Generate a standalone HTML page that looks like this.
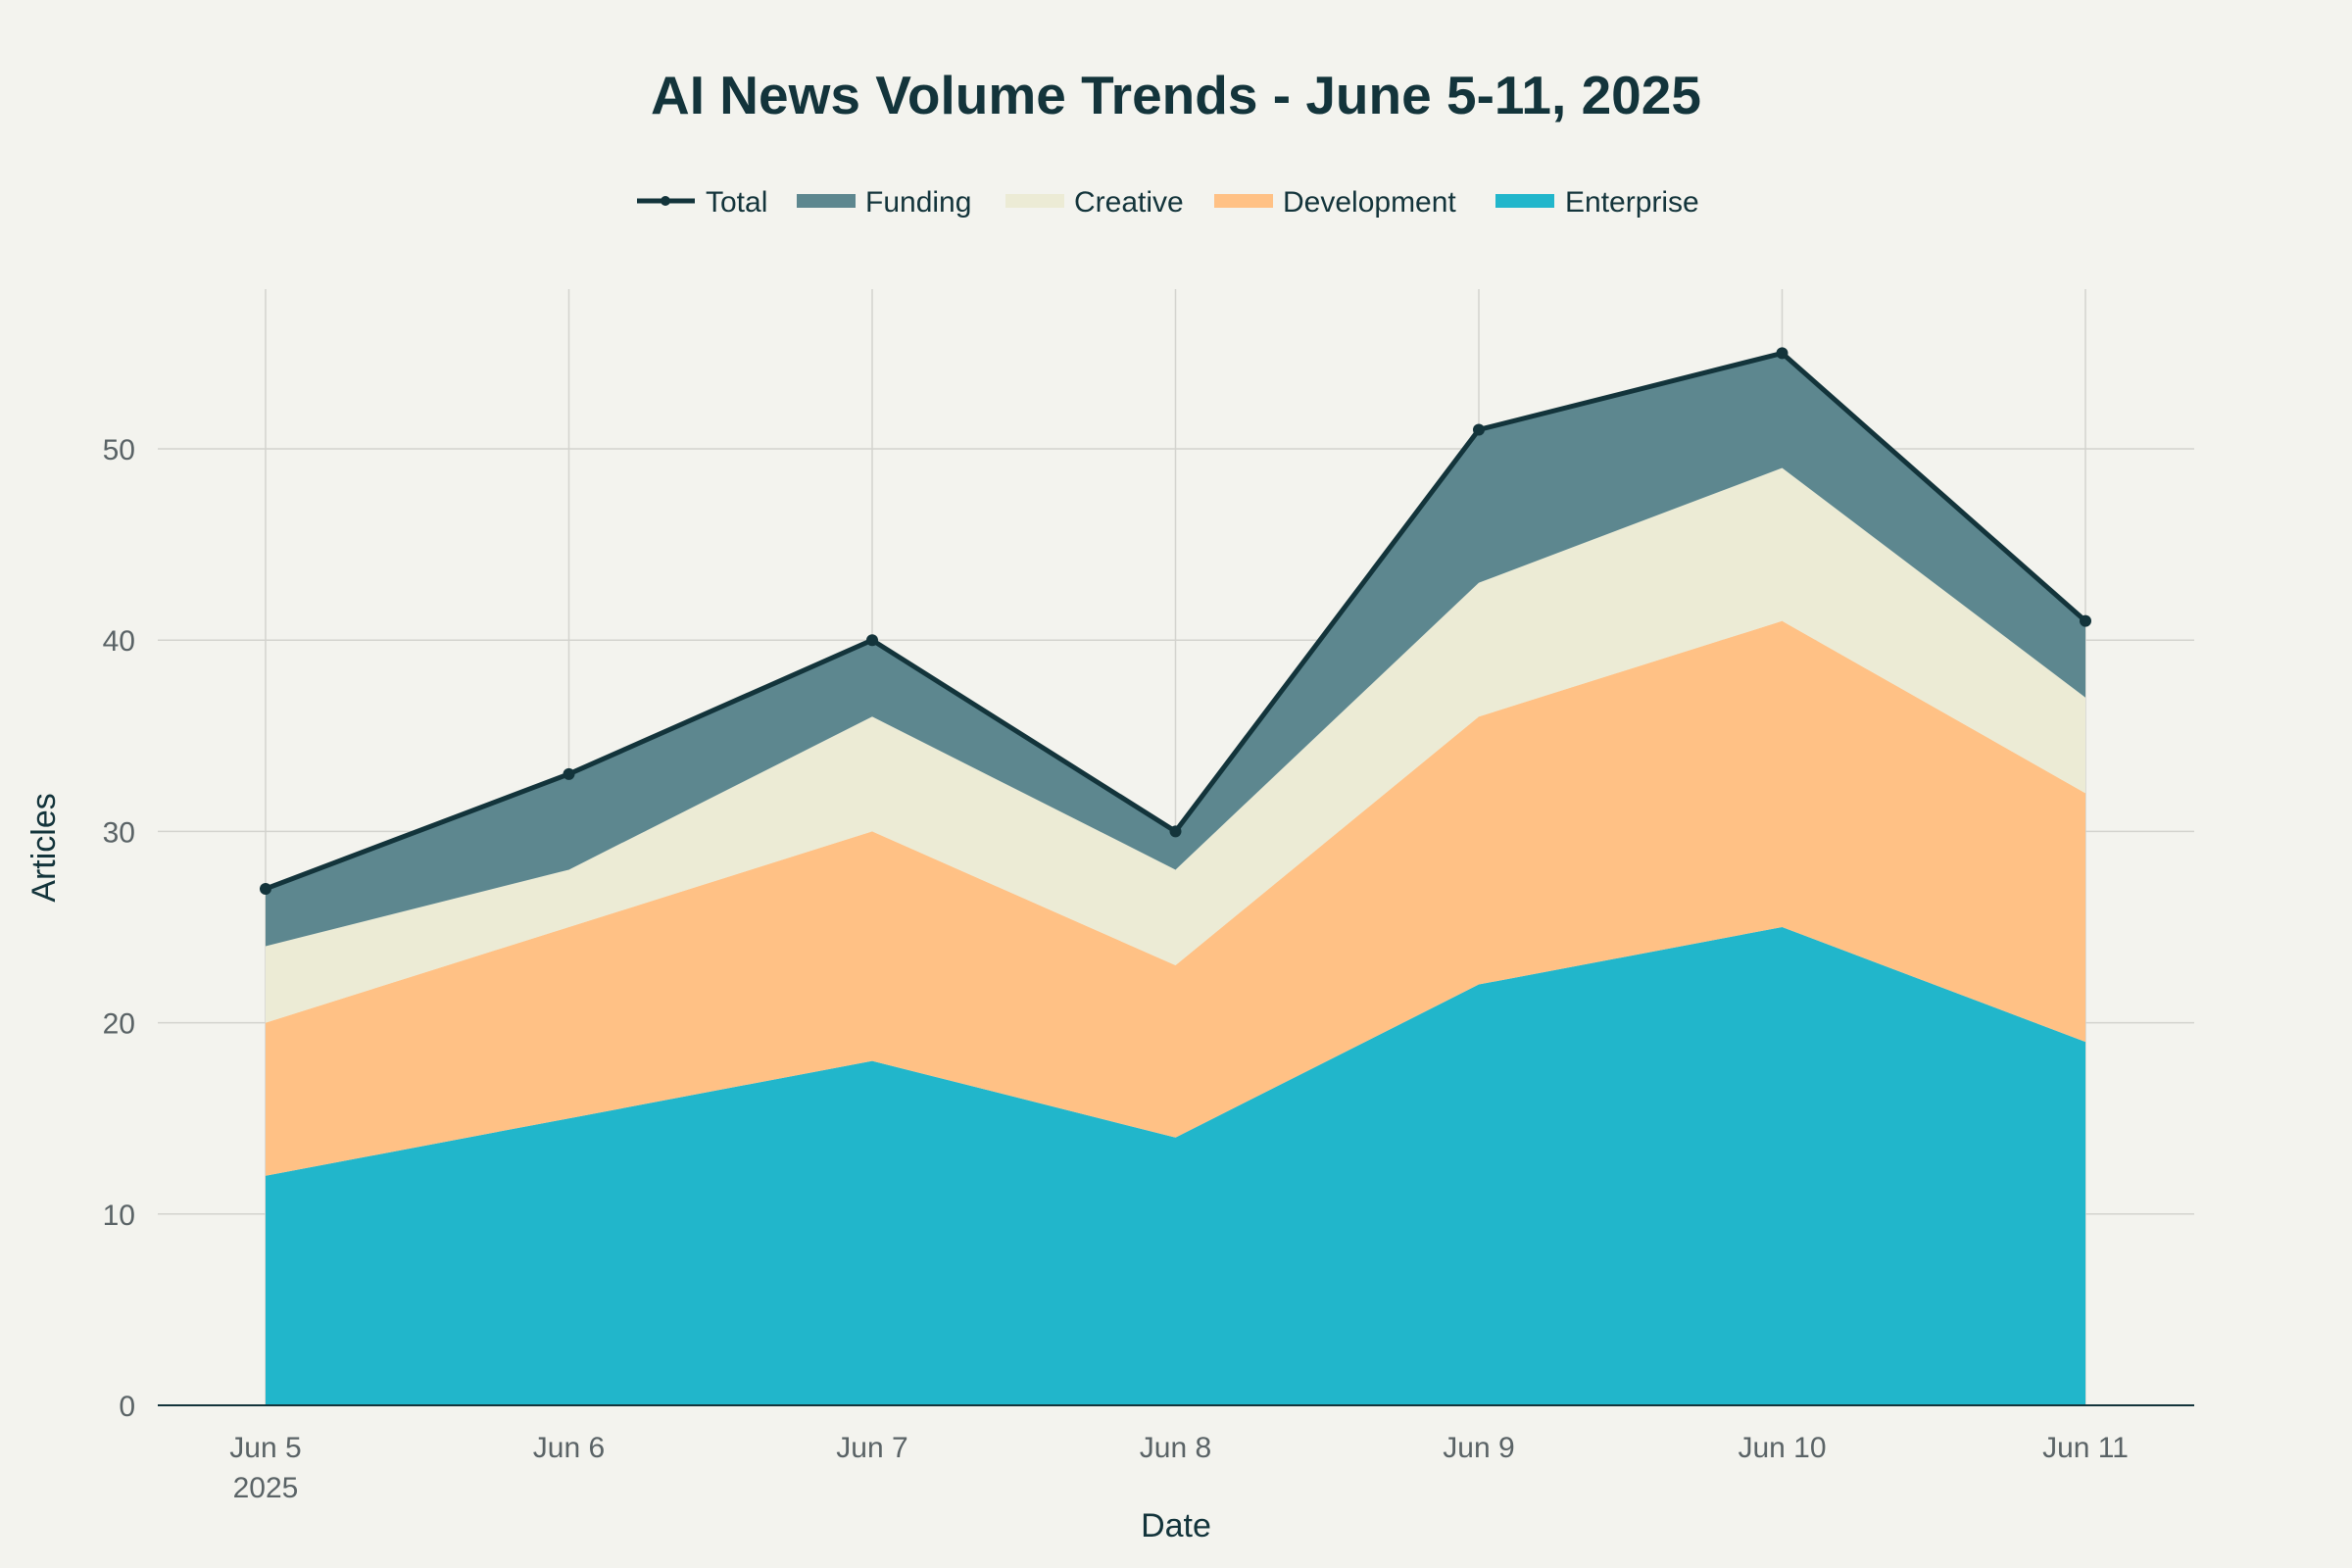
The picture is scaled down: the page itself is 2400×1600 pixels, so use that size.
<!DOCTYPE html>
<html><head><meta charset="utf-8"><style>
html,body{margin:0;padding:0;background:#F3F3EE;}
svg{display:block;font-family:"Liberation Sans",sans-serif;}
</style></head><body>
<svg id="chart" width="2400" height="1600" viewBox="0 0 2400 1600" xmlns="http://www.w3.org/2000/svg">
<rect width="2400" height="1600" fill="#F3F3EE"/>
<text x="1200" y="116" text-anchor="middle" font-size="55" font-weight="bold" fill="#13343B">AI News Volume Trends - June 5-11, 2025</text>
<g font-size="30" fill="#13343B">
 <g><line x1="650" y1="205" x2="709" y2="205" stroke="#13343B" stroke-width="5"/><circle cx="679" cy="205" r="5" fill="#13343B"/><text x="720" y="216">Total</text></g>
 <g><rect x="813" y="198" width="60" height="14" fill="#5D878F"/><text x="883" y="216">Funding</text></g>
 <g><rect x="1026" y="198" width="60" height="14" fill="#ECEBD5"/><text x="1096" y="216">Creative</text></g>
 <g><rect x="1239" y="198" width="60" height="14" fill="#FFC185"/><text x="1309" y="216">Development</text></g>
 <g><rect x="1526" y="198" width="60" height="14" fill="#21B6CB"/><text x="1597" y="216">Enterprise</text></g>
</g>
<g id="grid"></g>
<g id="areas"></g>
<g id="axes"></g>
<text x="1200" y="1568" text-anchor="middle" font-size="34" fill="#13343B">Date</text>
<text transform="translate(56,865) rotate(-90)" text-anchor="middle" font-size="34" fill="#13343B">Articles</text>
</svg>
<script>
const categories = ["Jun 5","Jun 6","Jun 7","Jun 8","Jun 9","Jun 10","Jun 11"];
const enterprise = [12,15,18,14,22,25,19];
const development = [8,10,12,9,14,16,13];
const creative = [4,3,6,5,7,8,5];
const funding = [3,5,4,2,8,6,4];
const yTicks = [0,10,20,30,40,50];

const NS="http://www.w3.org/2000/svg";
const x0=271, x1=2128, plotL=161, plotR=2239, plotT=295;
function xs(i){return x0+(x1-x0)*i/(categories.length-1);}
function ys(v){return 1434-(1434-458)*v/50;}
function mk(tag,attrs,parent){const e=document.createElementNS(NS,tag);for(const k in attrs)e.setAttribute(k,attrs[k]);parent.appendChild(e);return e;}
const grid=document.getElementById('grid'),areas=document.getElementById('areas'),axes=document.getElementById('axes');

yTicks.forEach(t=>{
  if(t>0){const l=mk('line',{x1:plotL,x2:plotR,y1:ys(t),y2:ys(t),stroke:'#D3D3CE','stroke-width':1.5},grid);
  
  }
  const tx=mk('text',{x:138,y:ys(t)+11,'text-anchor':'end','font-size':30,fill:'#5a6366'},axes);
  tx.textContent=t;
  
  
});
categories.forEach((c,i)=>{
  const l=mk('line',{x1:xs(i),x2:xs(i),y1:plotT,y2:ys(0),stroke:'#D3D3CE','stroke-width':1.5},grid);
  
  
  const tx=mk('text',{x:xs(i),y:1487,'text-anchor':'middle','font-size':30,fill:'#5a6366'},axes);
  tx.textContent=c;
  
  
});
const yr=mk('text',{x:xs(0),y:1528,'text-anchor':'middle','font-size':30,fill:'#5a6366'},axes);
yr.textContent='2025';



const series=[[enterprise,'#21B6CB','area-enterprise'],[development,'#FFC185','area-development'],[creative,'#ECEBD5','area-creative'],[funding,'#5D878F','area-funding']];
let base=categories.map(()=>0);
series.forEach(([vals,col,name])=>{
  const top=base.map((b,i)=>b+vals[i]);
  let d='M'+top.map((v,i)=>xs(i)+','+ys(v)).join(' L');
  for(let i=base.length-1;i>=0;i--) d+=' L'+xs(i)+','+ys(base[i]);
  const p=mk('path',{d:d+'Z',fill:col},areas);
  
  
  base=top;
});
const tl=mk('polyline',{points:base.map((v,i)=>xs(i)+','+ys(v)).join(' '),fill:'none',stroke:'#13343B','stroke-width':5,'stroke-linejoin':'round'},areas);


base.forEach((v,i)=>{
  const c=mk('circle',{cx:xs(i),cy:ys(v),r:6,fill:'#13343B'},areas);
  
  
});
const ax=mk('line',{x1:plotL,x2:plotR,y1:ys(0),y2:ys(0),stroke:'#13343B','stroke-width':2},axes);


</script>
</body></html>
